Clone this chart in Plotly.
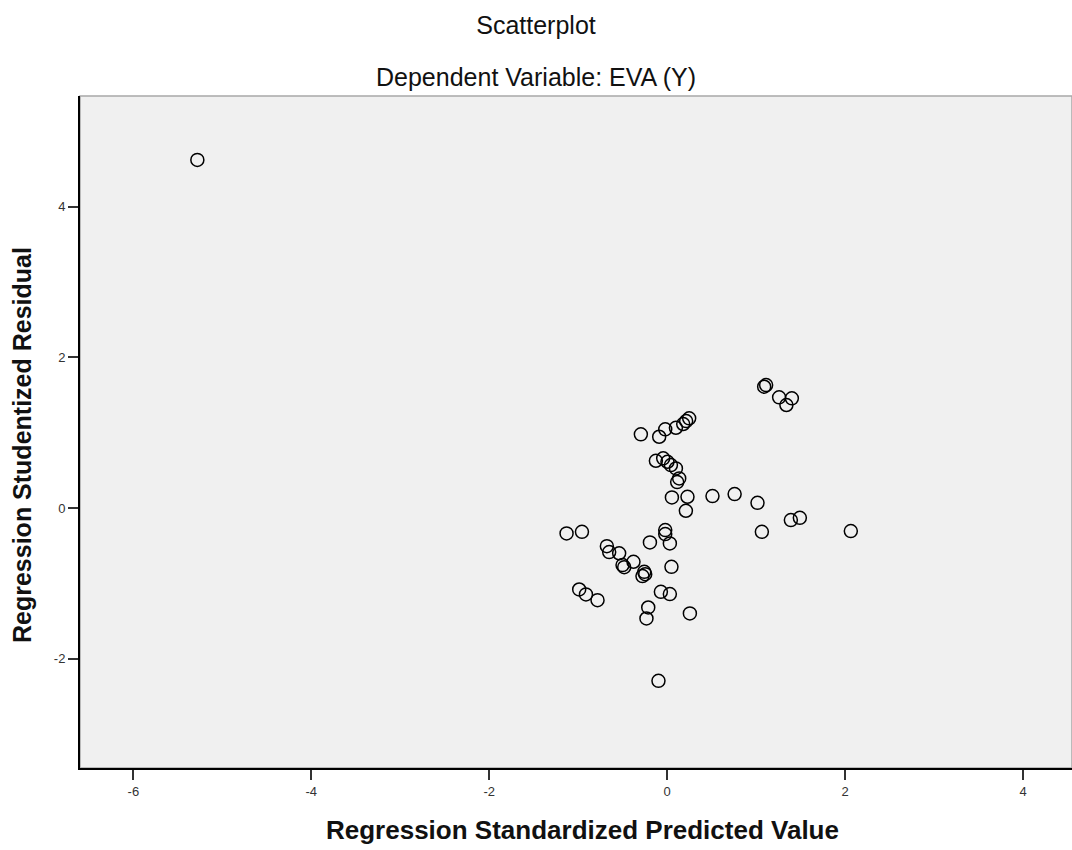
import plotly.graph_objects as go

# Regression Standardized Predicted Value (x) and Studentized Residual (y)
pred_x = [-5.281, -1.131, -0.958, -0.678, -0.652, -0.502, -0.483, -0.379, -0.258, -0.278,
          -0.247, -0.194, -0.022, -0.022, 0.030, 0.048, -0.989, -0.913, -0.783, -0.071,
          0.030, -0.213, -0.233, 0.255, -0.098, -0.296, -0.090, -0.022, 0.098, 0.180,
          0.247, 0.213, -0.127, -0.045, 0.003, 0.042, 0.098, 0.135, 0.112, 0.053,
          0.228, 0.210, 0.509, 0.758, 1.090, 1.112, 1.258, 1.401, 1.340, 1.015,
          1.390, 1.491, 1.064, 2.064, -0.540]
resid_y = [4.622, -0.336, -0.315, -0.505, -0.584, -0.757, -0.784, -0.713, -0.846, -0.903,
           -0.877, -0.456, -0.292, -0.345, -0.469, -0.780, -1.080, -1.146, -1.222, -1.112,
           -1.142, -1.319, -1.465, -1.398, -2.293, 0.979, 0.947, 1.045, 1.066, 1.116,
           1.191, 1.155, 0.628, 0.660, 0.615, 0.571, 0.527, 0.394, 0.345, 0.142,
           0.150, -0.036, 0.159, 0.186, 1.611, 1.633, 1.470, 1.457, 1.368, 0.070,
           -0.159, -0.129, -0.315, -0.305, -0.600]

x_ticks = [-6, -4, -2, 0, 2, 4]
y_ticks = [-2, 0, 2, 4]

title_text = "Scatterplot"
subtitle_text = "Dependent Variable: EVA (Y)"
x_title = "Regression Standardized Predicted Value"
y_title = "Regression Studentized Residual"

FONT = "Liberation Sans, Arial, sans-serif"

fig = go.Figure()
fig.add_trace(go.Scatter(
    x=pred_x, y=resid_y, mode="markers",
    marker=dict(symbol="circle-open", size=13, color="black", line=dict(width=1.5)),
    showlegend=False, hoverinfo="x+y",
))

fig.update_layout(
    width=1072, height=850,
    margin=dict(l=80, r=0, t=96, b=82),
    paper_bgcolor="white",
    plot_bgcolor="#f0f0f0",
    font=dict(family=FONT, color="#222"),
    title=dict(text=title_text, x=0.5, xref="container", xanchor="center",
               y=1 - 25 / 850, yref="container", yanchor="middle",
               font=dict(size=25, color="#111", family=FONT)),
    xaxis=dict(range=[-6.6, 4.55], tickvals=x_ticks, ticktext=[str(v) for v in x_ticks],
               showgrid=False, zeroline=False, showline=True, linecolor="black", linewidth=2,
               ticks="outside", ticklen=10, tickwidth=1.5, tickcolor="#333",
               tickfont=dict(size=13, color="#333", family=FONT)),
    yaxis=dict(range=[-3.45, 5.47], tickvals=y_ticks, ticktext=[str(v) for v in y_ticks],
               showgrid=False, zeroline=False, showline=True, linecolor="black", linewidth=2,
               ticks="outside", ticklen=10, tickwidth=1.5, tickcolor="#333",
               tickfont=dict(size=13, color="#333", family=FONT)),
    shapes=[dict(type="rect", xref="paper", yref="paper", x0=0, x1=1, y0=0, y1=1,
                 line=dict(color="#a8a8a8", width=1.5), layer="below")],
    annotations=[
        dict(text=subtitle_text, xref="paper", yref="paper",
             x=(536 - 80) / 992, y=(768 - 77) / 672, xanchor="center", yanchor="middle",
             showarrow=False, font=dict(size=25, color="#111", family=FONT)),
        dict(text="<b>" + x_title + "</b>", xref="paper", yref="paper",
             x=(582 - 80) / 992, y=(768 - 830) / 672, xanchor="center", yanchor="middle",
             showarrow=False, font=dict(size=26, color="#111", family=FONT)),
        dict(text="<b>" + y_title + "</b>", xref="paper", yref="paper",
             x=(22 - 80) / 992, y=(768 - 445) / 672, xanchor="center", yanchor="middle",
             textangle=-90, showarrow=False, font=dict(size=25, color="#111", family=FONT)),
    ],
)

fig.write_html("out.html")
